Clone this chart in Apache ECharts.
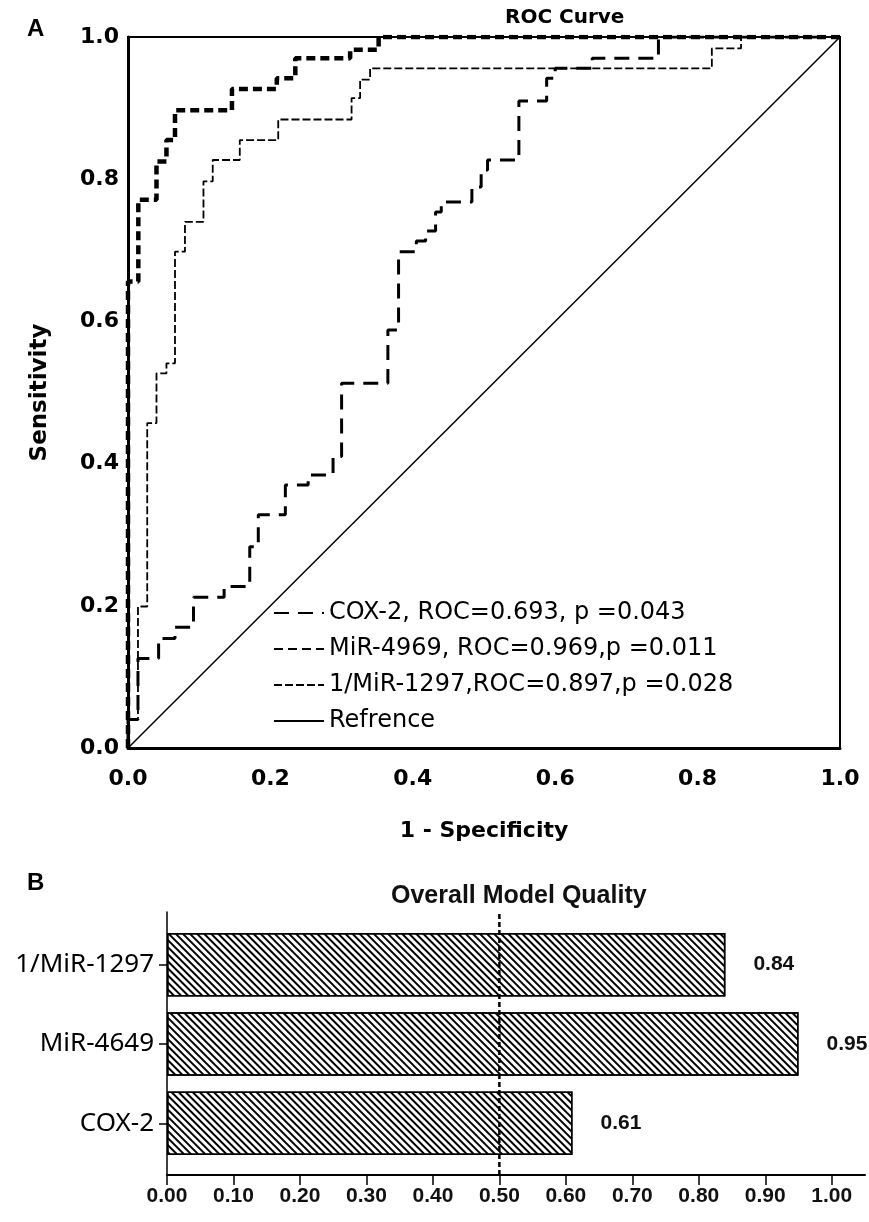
<!DOCTYPE html>
<html>
<head>
<meta charset="utf-8">
<script src="https://cdn.jsdelivr.net/npm/echarts@6/dist/echarts.min.js"></script>
<style>
html,body{margin:0;padding:0;background:#fff;}
#main{width:869px;height:1222px;}
</style>
</head>
<body>
<div id="main"></div>
<script>
// ---------- Panel A: ROC curves ----------
const xTicksA = [0.0, 0.2, 0.4, 0.6, 0.8, 1.0];

const cox2Name = 'COX-2, ROC=0.693, p =0.043';
const cox2FPR = [0,0,0.014,0.014,0.043,0.043,0.066,0.066,0.092,0.092,0.135,0.135,0.171,0.171,0.183,0.183,0.221,0.221,0.253,0.253,0.288,0.288,0.300,0.300,0.365,0.365,0.380,0.380,0.405,0.405,0.418,0.418,0.432,0.432,0.440,0.440,0.483,0.483,0.496,0.496,0.505,0.505,0.549,0.549,0.588,0.588,0.600,0.600,0.652,0.652,0.745,0.745,1];
const cox2TPR = [0,0.040,0.040,0.126,0.126,0.154,0.154,0.170,0.170,0.212,0.212,0.227,0.227,0.283,0.283,0.328,0.328,0.370,0.370,0.384,0.384,0.410,0.410,0.513,0.513,0.588,0.588,0.698,0.698,0.713,0.713,0.727,0.727,0.754,0.754,0.768,0.768,0.789,0.789,0.813,0.813,0.827,0.827,0.910,0.910,0.942,0.942,0.956,0.956,0.970,0.970,1,1];

const mirName = 'MiR-4969, ROC=0.969,p =0.011';
const mirFPR = [0,0,0.0145,0.0145,0.040,0.040,0.054,0.054,0.066,0.066,0.146,0.146,0.209,0.209,0.235,0.235,0.312,0.312,0.352,0.352,1];
const mirTPR = [0,0.656,0.656,0.771,0.771,0.825,0.825,0.855,0.855,0.897,0.897,0.927,0.927,0.942,0.942,0.970,0.970,0.982,0.982,1,1];

const invName = '1/MiR-1297,ROC=0.897,p =0.028';
const invFPR = [0,0,0.014,0.014,0.027,0.027,0.040,0.040,0.054,0.054,0.066,0.066,0.080,0.080,0.106,0.106,0.119,0.119,0.157,0.157,0.211,0.211,0.314,0.314,0.326,0.326,0.340,0.340,0.820,0.820,0.861,0.861,1];
const invTPR = [0,0.040,0.040,0.199,0.199,0.457,0.457,0.527,0.527,0.541,0.541,0.698,0.698,0.740,0.740,0.797,0.797,0.827,0.827,0.855,0.855,0.884,0.884,0.914,0.914,0.940,0.940,0.956,0.956,0.984,0.984,1,1];

const refName = 'Refrence';
const refX = [0, 1];
const refY = [0, 1];

// ---------- Panel B: Overall model quality ----------
const barCategories = ['COX-2', 'MiR-4649', '1/MiR-1297'];
const barValues = [0.61, 0.95, 0.84];
const xTicksB = [0.00,0.10,0.20,0.30,0.40,0.50,0.60,0.70,0.80,0.90,1.00];
const threshold = 0.5;

function zip(a, b) { return a.map((v, i) => [v, b[i]]); }

const fontA = 'DejaVu Sans';
const fontB = "'Liberation Sans', Arial, sans-serif";

const chart = echarts.init(document.getElementById('main'));
const option = {
  backgroundColor: '#fff',
  animation: false,
  title: [
    { text: 'A', left: 22, top: 12, textStyle: { fontFamily: 'Liberation Sans', fontWeight: 'bold', fontSize: 24, color: '#000' } },
    { text: 'ROC Curve', left: 500, top: 3, textStyle: { fontFamily: fontA, fontWeight: 'bold', fontSize: 20, color: '#000' } },
    { text: 'B', left: 22, top: 866, textStyle: { fontFamily: 'Liberation Sans', fontWeight: 'bold', fontSize: 24, color: '#000' } },
    { text: 'Overall Model Quality', left: 386, top: 879, textStyle: { fontFamily: 'Liberation Sans', fontWeight: 'bold', fontSize: 25, color: '#111' } }
  ],
  legend: {
    orient: 'vertical',
    left: 273, top: 600,
    itemWidth: 50, itemHeight: 14, itemGap: 10,
    padding: 0,
    data: [cox2Name, mirName, invName, refName],
    itemStyle: { opacity: 0 },
    textStyle: { fontFamily: fontA, fontSize: 24, color: '#000', lineHeight: 26 }
  },
  grid: [
    { left: 128, right: 29, top: 37, bottom: 474, show: true, borderColor: '#000', borderWidth: 2 },
    { left: 167, right: 4, top: 912, bottom: 47 },
    { left: 167, right: 4, top: 925, bottom: 59 }
  ],
  xAxis: [
    {
      gridIndex: 0, type: 'value', min: 0, max: 1, interval: 0.2,
      name: '1 - Specificity', nameLocation: 'middle', nameGap: 72,
      nameTextStyle: { fontFamily: fontA, fontWeight: 'bold', fontSize: 22, color: '#000' },
      axisLine: { show: true, lineStyle: { color: '#000', width: 3 } },
      axisTick: { show: false }, splitLine: { show: false },
      axisLabel: { margin: 20, fontFamily: fontA, fontWeight: 'bold', fontSize: 22, color: '#000', formatter: v => v.toFixed(1) }
    },
    {
      gridIndex: 1, type: 'value', min: 0, max: 1.05,
      axisLine: { show: true, lineStyle: { color: '#000', width: 2 } },
      axisTick: { show: true, inside: false, length: 10, lineStyle: { color: '#000', width: 1.5 }, customValues: xTicksB },
      splitLine: { show: false },
      axisLabel: { margin: 11, fontFamily: fontB, fontWeight: 'bold', fontSize: 21, color: '#111', customValues: xTicksB, formatter: v => v.toFixed(2) }
    },
    {
      gridIndex: 2, type: 'value', min: 0, max: 1.05, show: false
    }
  ],
  yAxis: [
    {
      gridIndex: 0, type: 'value', min: 0, max: 1, interval: 0.2,
      name: 'Sensitivity', nameLocation: 'middle', nameGap: 76, nameRotate: 90,
      nameTextStyle: { fontFamily: fontA, fontWeight: 'bold', fontSize: 23, color: '#000' },
      axisLine: { show: true, lineStyle: { color: '#000', width: 3 } },
      axisTick: { show: false }, splitLine: { show: false },
      axisLabel: { margin: 9, fontFamily: fontA, fontWeight: 'bold', fontSize: 22, color: '#000', formatter: v => v.toFixed(1) }
    },
    {
      gridIndex: 1, type: 'value', min: 0, max: 1,
      axisLine: { show: true, lineStyle: { color: '#000', width: 1.5 } },
      axisTick: { show: false }, axisLabel: { show: false }, splitLine: { show: false }
    },
    {
      gridIndex: 2, type: 'category', data: barCategories,
      axisLine: { show: false },
      axisTick: { show: true, alignWithLabel: true, length: 8, lineStyle: { color: '#000', width: 1.5 } },
      axisLabel: { margin: 13, fontFamily: 'Noto Sans', fontSize: 26, color: '#000' }
    }
  ],
  series: [
    {
      name: cox2Name, type: 'line', xAxisIndex: 0, yAxisIndex: 0, symbol: 'none',
      data: zip(cox2FPR, cox2TPR),
      itemStyle: { color: '#000' },
      lineStyle: { color: '#000', width: 3, type: [15, 9], cap: 'butt' }, z: 3
    },
    {
      name: mirName, type: 'line', xAxisIndex: 0, yAxisIndex: 0, symbol: 'none',
      data: zip(mirFPR, mirTPR),
      itemStyle: { color: '#000' },
      lineStyle: { color: '#000', width: 4.5, type: [9, 5], cap: 'butt' }, z: 4
    },
    {
      name: invName, type: 'line', xAxisIndex: 0, yAxisIndex: 0, symbol: 'none',
      data: zip(invFPR, invTPR),
      itemStyle: { color: '#000' },
      lineStyle: { color: '#000', width: 1.8, type: [8, 3], cap: 'butt' }, z: 3
    },
    {
      name: refName, type: 'line', xAxisIndex: 0, yAxisIndex: 0, symbol: 'none',
      data: zip(refX, refY),
      itemStyle: { color: '#000' },
      lineStyle: { color: '#000', width: 1.5, type: 'solid' }, z: 2
    },
    {
      type: 'bar', xAxisIndex: 2, yAxisIndex: 2,
      data: barValues, barWidth: '80%',
      itemStyle: {
        color: '#fff', borderColor: '#000', borderWidth: 1.5,
        decal: { symbol: 'rect', symbolSize: 1, color: '#000', dashArrayX: [1, 0], dashArrayY: [1.5, 3], rotation: Math.PI / 4 }
      },
      label: { show: true, position: 'right', distance: 28, fontFamily: fontB, fontWeight: 'bold', fontSize: 21, color: '#111', formatter: p => p.value.toFixed(2) }
    },
    {
      type: 'line', xAxisIndex: 1, yAxisIndex: 1, symbol: 'none',
      data: [[threshold, 0], [threshold, 1]],
      itemStyle: { color: '#000' },
      lineStyle: { color: '#000', width: 2.5, type: [5, 3] }, z: 5
    }
  ]
};
chart.setOption(option);
</script>
</body>
</html>
